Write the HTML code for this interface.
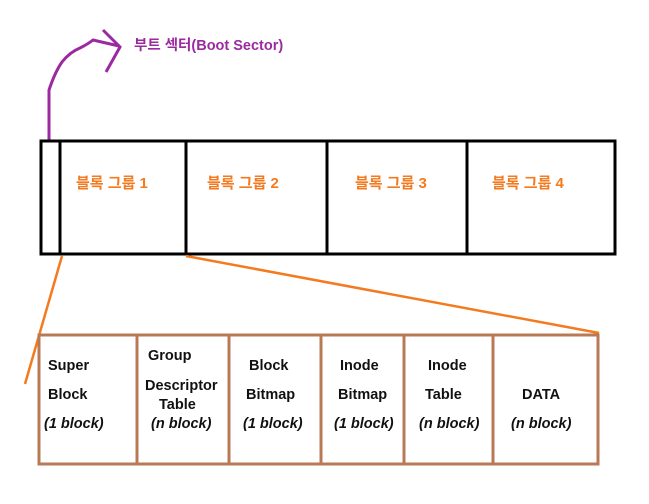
<!DOCTYPE html>
<html><head><meta charset="utf-8"><style>
html,body{margin:0;padding:0;background:#fff;}
svg{display:block;}
.o{font-family:"Liberation Sans","Noto Sans CJK KR",sans-serif;font-weight:bold;font-size:15px;fill:#f47a1f;}
.b{font-family:"Liberation Sans","Noto Sans CJK KR",sans-serif;font-weight:bold;font-size:14.5px;fill:#111;}
.i{font-style:italic;}
</style></head><body>
<svg width="649" height="504" viewBox="0 0 649 504" xmlns="http://www.w3.org/2000/svg">
<rect width="649" height="504" fill="#fff"/>
<path d="M49,141 L49,90 Q55,72 62,62 Q70,52 80,48 Q88,44 93,40 L119,46" fill="none" stroke="#9b2aa0" stroke-width="3"/>
<path d="M103,30 L120,47 L106,72" fill="none" stroke="#9b2aa0" stroke-width="3"/>
<text x="134" y="50" font-family="Liberation Sans,Noto Sans CJK KR,sans-serif" font-weight="bold" font-size="14.5" fill="#9b2aa0">부트 섹터(Boot Sector)</text>
<rect x="41" y="141" width="574" height="113" fill="none" stroke="#000" stroke-width="3"/>
<line x1="60" y1="141" x2="60" y2="254" stroke="#000" stroke-width="3"/>
<line x1="186" y1="141" x2="186" y2="254" stroke="#000" stroke-width="3"/>
<line x1="327" y1="141" x2="327" y2="254" stroke="#000" stroke-width="3"/>
<line x1="467" y1="141" x2="467" y2="254" stroke="#000" stroke-width="3"/>
<text class="o" x="76" y="188">블록 그룹 1</text>
<text class="o" x="207" y="188">블록 그룹 2</text>
<text class="o" x="355" y="188">블록 그룹 3</text>
<text class="o" x="492" y="188">블록 그룹 4</text>
<line x1="62" y1="256" x2="25" y2="384" stroke="#f47a1f" stroke-width="2.5"/>
<line x1="186" y1="256" x2="599" y2="333" stroke="#f47a1f" stroke-width="2.5"/>
<rect x="39" y="335" width="559" height="129" fill="none" stroke="#b87a55" stroke-width="3"/>
<g stroke="#b87a55" stroke-width="3">
<line x1="137" y1="335" x2="137" y2="464"/>
<line x1="229" y1="335" x2="229" y2="464"/>
<line x1="321" y1="335" x2="321" y2="464"/>
<line x1="404" y1="335" x2="404" y2="464"/>
<line x1="493" y1="335" x2="493" y2="464"/>
</g>
<text class="b" x="48" y="370">Super</text>
<text class="b" x="48" y="399">Block</text>
<text class="b i" x="44" y="428">(1 block)</text>
<text class="b" x="148" y="360">Group</text>
<text class="b" x="145" y="390">Descriptor</text>
<text class="b" x="159" y="409">Table</text>
<text class="b i" x="151" y="428">(n block)</text>
<text class="b" x="249" y="370">Block</text>
<text class="b" x="246" y="399">Bitmap</text>
<text class="b i" x="243" y="428">(1 block)</text>
<text class="b" x="340" y="370">Inode</text>
<text class="b" x="338" y="399">Bitmap</text>
<text class="b i" x="334" y="428">(1 block)</text>
<text class="b" x="428" y="370">Inode</text>
<text class="b" x="425" y="399">Table</text>
<text class="b i" x="419" y="428">(n block)</text>
<text class="b" x="522" y="399">DATA</text>
<text class="b i" x="511" y="428">(n block)</text>
</svg>
</body></html>
